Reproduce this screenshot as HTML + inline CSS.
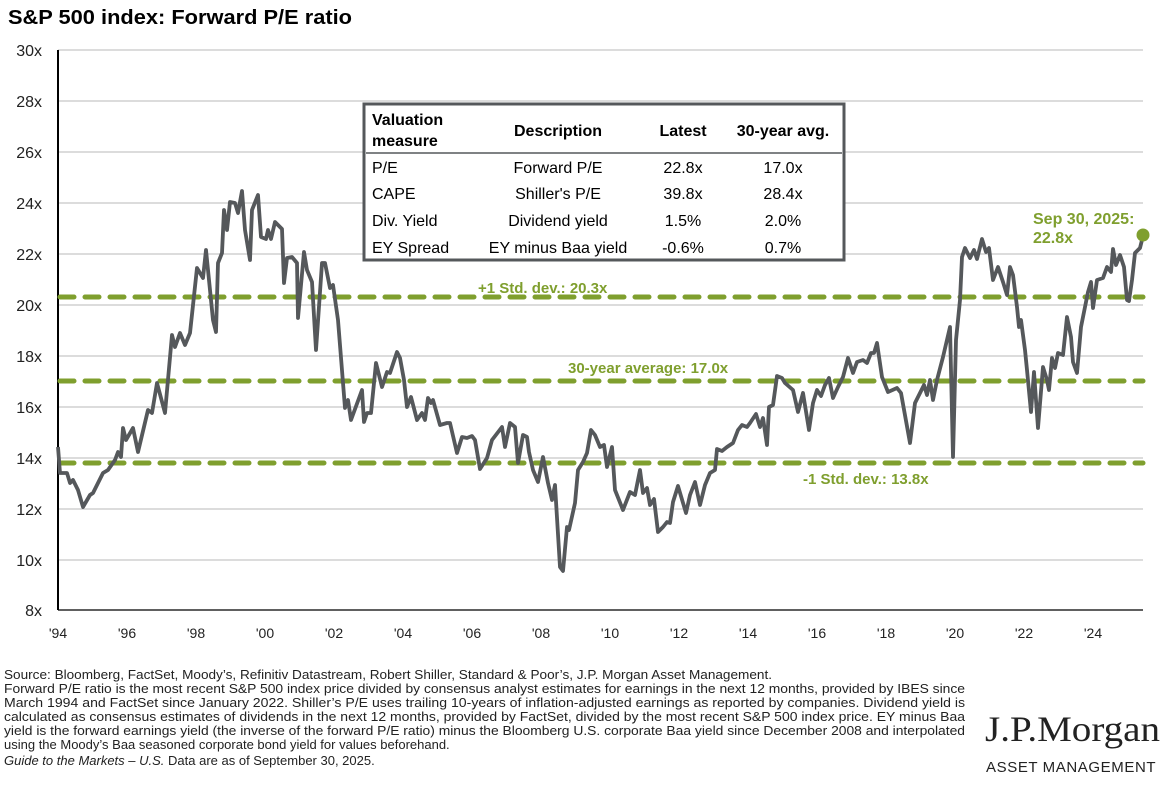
<!DOCTYPE html>
<html><head><meta charset="utf-8"><style>
body{margin:0;background:#fff;width:1173px;height:780px;overflow:hidden;font-family:"Liberation Sans",sans-serif}
</style></head><body>
<svg width="1173" height="780" xmlns="http://www.w3.org/2000/svg" font-family="Liberation Sans, sans-serif">
<text x="8" y="24" font-size="20" font-weight="bold" fill="#000" textLength="344" lengthAdjust="spacingAndGlyphs">S&amp;P 500 index: Forward P/E ratio</text>
<g stroke="#c8c8c8" stroke-width="1.3">
<line x1="58" x2="1143" y1="50" y2="50"/><line x1="58" x2="1143" y1="101" y2="101"/><line x1="58" x2="1143" y1="152" y2="152"/><line x1="58" x2="1143" y1="203" y2="203"/><line x1="58" x2="1143" y1="254" y2="254"/><line x1="58" x2="1143" y1="305" y2="305"/><line x1="58" x2="1143" y1="356" y2="356"/><line x1="58" x2="1143" y1="407" y2="407"/><line x1="58" x2="1143" y1="458" y2="458"/><line x1="58" x2="1143" y1="509" y2="509"/><line x1="58" x2="1143" y1="560" y2="560"/>
</g>
<line x1="58" x2="1143" y1="610" y2="610" stroke="#000" stroke-width="1.3"/>
<line x1="58" x2="58" y1="50" y2="610" stroke="#000" stroke-width="2"/>
<g font-size="16" fill="#222" text-anchor="end">
<text x="42" y="56">30x</text><text x="42" y="107">28x</text><text x="42" y="158">26x</text><text x="42" y="209">24x</text><text x="42" y="260">22x</text><text x="42" y="311">20x</text><text x="42" y="362">18x</text><text x="42" y="413">16x</text><text x="42" y="464">14x</text><text x="42" y="515">12x</text><text x="42" y="566">10x</text><text x="42" y="616">8x</text>
</g>
<g font-size="14" fill="#222" text-anchor="middle">
<text x="58" y="638">'94</text><text x="127" y="638">'96</text><text x="196" y="638">'98</text><text x="265" y="638">'00</text><text x="334" y="638">'02</text><text x="403" y="638">'04</text><text x="472" y="638">'06</text><text x="541" y="638">'08</text><text x="610" y="638">'10</text><text x="679" y="638">'12</text><text x="748" y="638">'14</text><text x="817" y="638">'16</text><text x="886" y="638">'18</text><text x="955" y="638">'20</text><text x="1024" y="638">'22</text><text x="1093" y="638">'24</text>
</g>
<g stroke="#7f9f2e" stroke-width="5" stroke-dasharray="14 11" stroke-linecap="round">
<line x1="60" x2="1143" y1="297" y2="297"/><line x1="60" x2="1143" y1="381" y2="381"/><line x1="60" x2="1143" y1="463" y2="463"/>
</g>
<g font-size="15" font-weight="bold" fill="#7f9f2e">
<text x="478" y="293">+1 Std. dev.: 20.3x</text>
<text x="568" y="373">30-year average: 17.0x</text>
<text x="803" y="484">-1 Std. dev.: 13.8x</text>
<text x="1033" y="224" font-size="16">Sep 30, 2025:</text>
<text x="1033" y="243" font-size="16">22.8x</text>
</g>
<polyline fill="none" stroke="#55585b" stroke-width="3.8" stroke-linejoin="round" points="58,447 60,473 67,473 70,483 73,480 78,490 83,507 90,495 93,493 103,473 108,470 115,460 118,452 121,457 123,428 126,440 133,428 138,452 148,410 152,413 157,383 165,413 172,335 175,347 180,333 185,345 190,333 197,268 203,278 206,250 213,320 216,332 218,263 222,253 224,210 227,230 230,202 235,203 238,213 242,191 245,230 250,260 252,210 258,195 261,237 266,239 268,230 271,239 275,222 282,229 284,283 287,258 292,257 297,263 298,318 304,252 307,270 312,282 316,350 322,263 325,263 330,288 333,285 338,320 345,408 348,400 351,420 362,390 364,422 367,413 371,413 376,363 382,387 387,372 390,373 397,352 400,358 404,380 407,407 411,397 417,420 422,413 425,420 428,398 431,403 433,400 440,425 447,423 450,423 457,453 462,437 467,438 472,436 475,440 480,469 487,458 492,440 502,427 505,447 510,423 515,427 518,463 523,435 527,437 529,452 533,470 538,482 543,457 548,483 552,500 555,485 560,567 563,571 567,527 569,530 575,503 578,470 583,462 587,453 591,430 595,435 600,447 604,445 607,467 612,447 615,490 623,510 630,492 635,495 640,470 643,493 647,488 650,505 654,499 658,532 663,527 667,522 670,523 673,502 678,486 686,513 690,495 695,482 700,505 705,485 710,473 715,470 717,449 722,451 727,447 733,443 738,430 742,425 747,427 750,423 756,414 760,427 763,418 767,445 769,407 773,405 777,376 782,378 785,383 793,390 798,412 803,393 809,430 813,403 817,390 821,396 825,385 829,378 833,398 838,387 843,377 848,358 853,373 857,362 863,360 867,363 871,353 874,353 877,343 882,377 888,392 897,388 901,393 910,443 915,403 920,393 924,385 927,395 930,380 933,400 937,380 943,357 950,327 953,457 956,340 960,300 962,257 965,248 970,258 974,250 977,259 982,239 986,252 989,248 993,280 998,267 1003,282 1007,295 1010,267 1013,275 1017,307 1019,327 1021,320 1025,350 1027,370 1031,412 1034,372 1038,428 1043,367 1047,380 1049,390 1052,358 1055,368 1058,353 1063,355 1067,317 1071,337 1073,362 1077,373 1081,327 1084,312 1088,292 1091,282 1093,308 1097,280 1103,278 1107,267 1111,272 1113,249 1116,265 1120,255 1124,267 1127,300 1129,301 1132,280 1135,253 1138,250 1140,248 1143,236"/>
<circle cx="1143" cy="235" r="6.5" fill="#7f9f2e"/>
<rect x="364" y="104" width="480" height="156" fill="#fff" stroke="#55585b" stroke-width="3"/>
<line x1="366" x2="842" y1="153" y2="153" stroke="#55585b" stroke-width="1.5"/>
<g font-size="16" fill="#000">
<text x="372" y="125" font-weight="bold">Valuation</text>
<text x="372" y="146" font-weight="bold">measure</text>
<g font-weight="bold" text-anchor="middle"><text x="558" y="136">Description</text><text x="683" y="136">Latest</text><text x="783" y="136">30-year avg.</text></g>
<text x="372" y="173">P/E</text><text x="372" y="199">CAPE</text><text x="372" y="226">Div. Yield</text><text x="372" y="253">EY Spread</text>
<g text-anchor="middle">
<text x="558" y="173">Forward P/E</text><text x="683" y="173">22.8x</text><text x="783" y="173">17.0x</text>
<text x="558" y="199">Shiller's P/E</text><text x="683" y="199">39.8x</text><text x="783" y="199">28.4x</text>
<text x="558" y="226">Dividend yield</text><text x="683" y="226">1.5%</text><text x="783" y="226">2.0%</text>
<text x="558" y="253">EY minus Baa yield</text><text x="683" y="253">-0.6%</text><text x="783" y="253">0.7%</text>
</g></g>
<g font-size="13" fill="#222">
<text x="4" y="679" textLength="768" lengthAdjust="spacingAndGlyphs">Source: Bloomberg, FactSet, Moody’s, Refinitiv Datastream, Robert Shiller, Standard &amp; Poor’s, J.P. Morgan Asset Management.</text>
<text x="4" y="693" textLength="961" lengthAdjust="spacingAndGlyphs">Forward P/E ratio is the most recent S&amp;P 500 index price divided by consensus analyst estimates for earnings in the next 12 months, provided by IBES since</text>
<text x="4" y="707" textLength="961" lengthAdjust="spacingAndGlyphs">March 1994 and FactSet since January 2022. Shiller’s P/E uses trailing 10-years of inflation-adjusted earnings as reported by companies. Dividend yield is</text>
<text x="4" y="721" textLength="961" lengthAdjust="spacingAndGlyphs">calculated as consensus estimates of dividends in the next 12 months, provided by FactSet, divided by the most recent S&amp;P 500 index price. EY minus Baa</text>
<text x="4" y="735" textLength="961" lengthAdjust="spacingAndGlyphs">yield is the forward earnings yield (the inverse of the forward P/E ratio) minus the Bloomberg U.S. corporate Baa yield since December 2008 and interpolated</text>
<text x="4" y="749">using the Moody’s Baa seasoned corporate bond yield for values beforehand.</text>
<text x="4" y="765"><tspan font-style="italic">Guide to the Markets – U.S.</tspan> Data are as of September 30, 2025.</text>
</g>
<text x="985" y="741" font-family="Liberation Serif, serif" font-size="36" fill="#222" textLength="175" lengthAdjust="spacingAndGlyphs">J.P.Morgan</text>
<text x="986" y="772" font-size="15" fill="#222" letter-spacing="0.6">ASSET MANAGEMENT</text>
</svg>
</body></html>
